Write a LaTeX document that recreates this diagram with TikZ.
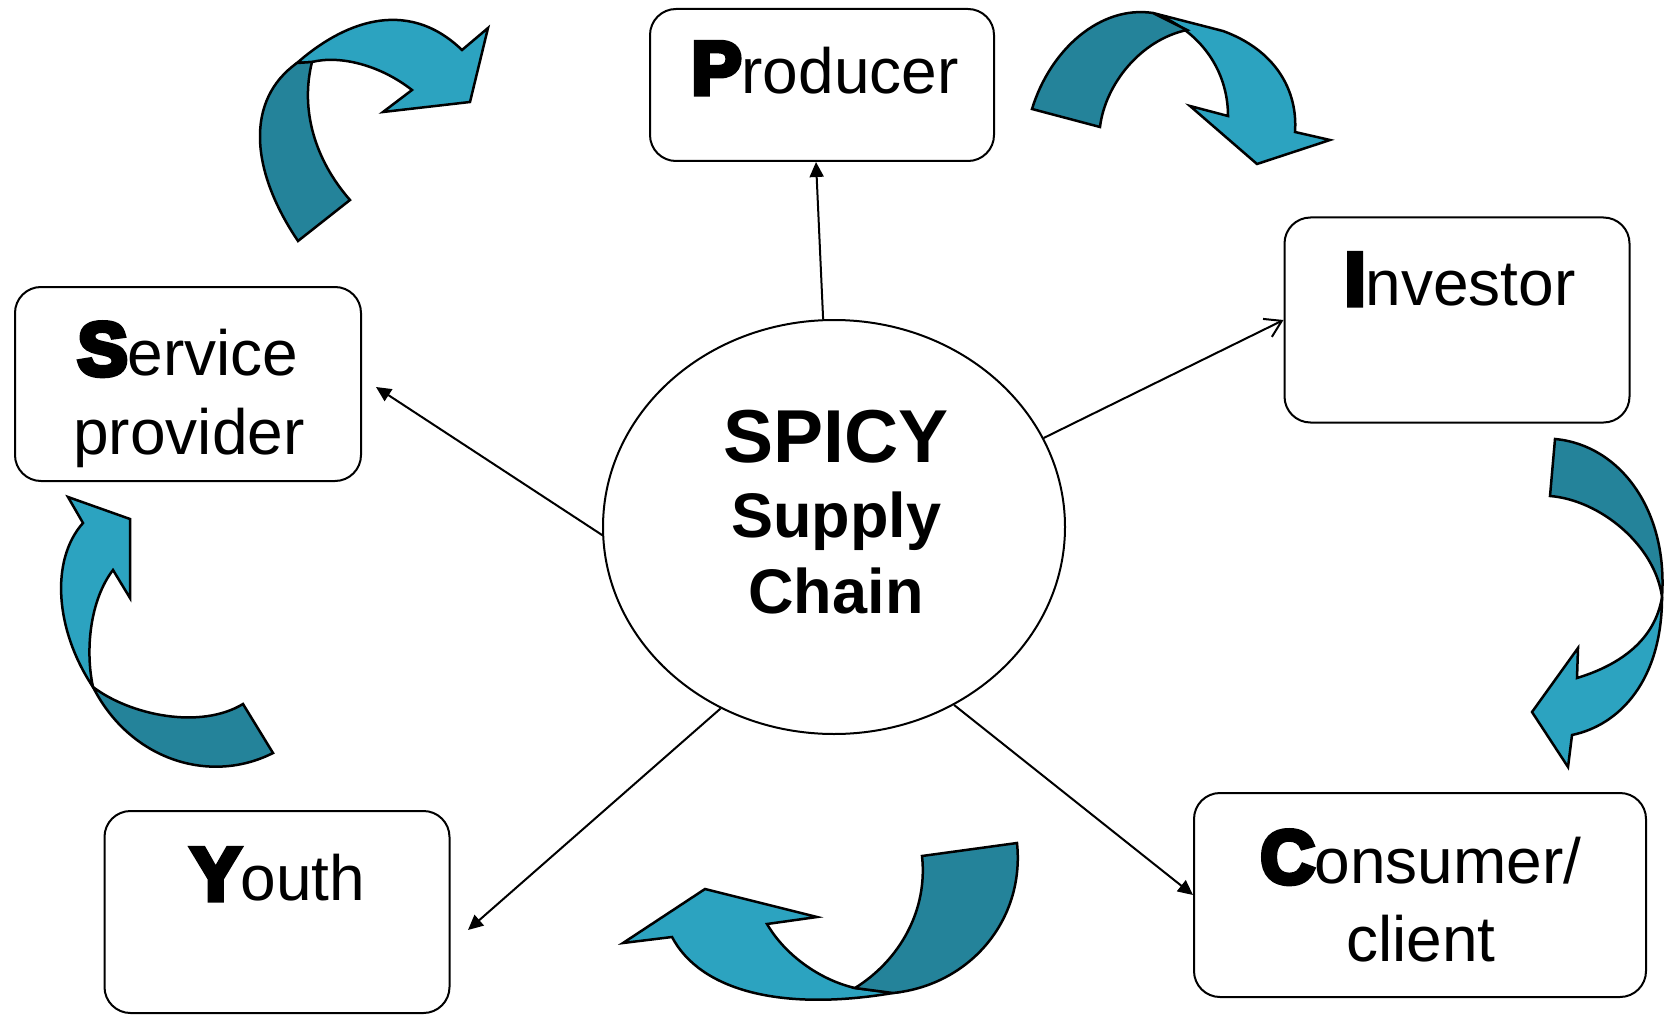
\documentclass[tikz,border=0pt]{standalone}
\usepackage{fontspec}
\setmainfont{Liberation Sans}
\newfontfamily\blackfont[FakeBold=7]{Liberation Sans Bold}
\usetikzlibrary{arrows.meta,shapes.geometric}

\definecolor{ribbonlight}{HTML}{2CA3C0}
\definecolor{ribbondark}{HTML}{24839A}

% big heavy first letter of each box label
\newcommand{\initial}[1]{{\blackfont\fontsize{75}{75}\selectfont #1}}
\newcommand{\boxfont}{\fontsize{64}{64}\selectfont}

\begin{document}
\begin{tikzpicture}[x=1pt,y=-1pt,
    box/.style={draw, line width=2pt, rounded corners=26pt, inner sep=0pt},
    boxtext/.style={anchor=base, inner sep=0pt, font=\boxfont},
    hub/.style={ellipse, draw, line width=2pt, minimum width=462pt, minimum height=414pt, inner sep=0pt},
    hubbig/.style={anchor=base, inner sep=0pt, font=\bfseries\fontsize{75}{75}\selectfont},
    hubtext/.style={anchor=base, inner sep=0pt, font=\bfseries\fontsize{63}{63}\selectfont},
    link/.style={line width=2pt, -{Triangle[length=15pt,width=14pt]}},
    lightrib/.style={fill=ribbonlight, draw=black, line width=2.5pt},
    darkrib/.style={fill=ribbondark, draw=black, line width=2.5pt}]
    \useasboundingbox (0,0) rectangle (1669,1016);

    % centre
    \node[hub] (hub) at (834,527) {};
        \node[hubbig] (spicy) at (836,462) {SPICY};
        \node[hubtext] (supply) at (836,537) {Supply};
        \node[hubtext] (chain) at (836,613) {Chain};

    % boxes
    \node[box, minimum width=344pt, minimum height=152pt] (prod) at (822,85) {};
        \node[boxtext] (prodtxt) at (825,94) {\initial{P}roducer};
    \node[box, minimum width=345pt, minimum height=205pt] (inv) at (1457,320) {};
        \node[boxtext] (invtxt) at (1460,305) {\initial{I}nvestor};
    \node[box, minimum width=346pt, minimum height=194pt] (serv) at (188,384) {};
        \node[boxtext] (servtxt) at (188,375) {\initial{S}ervice};
        \node[boxtext] (servtxtb) at (189,454) {provider};
    \node[box, minimum width=345pt, minimum height=202pt] (youth) at (277,912) {};
        \node[boxtext] (youthtxt) at (278,900) {\initial{Y}outh};
    \node[box, minimum width=452pt, minimum height=204pt] (cons) at (1420,895) {};
        \node[boxtext] (constxt) at (1421,883) {\initial{C}onsumer/};
        \node[boxtext] (constxtb) at (1421,961) {client};

    % connectors
    \coordinate (servtip) at (376,387);
    \coordinate (youthtip) at (468,930);
    \draw[link] (hub.93) -- ([xshift=-6pt]prod.south);
    \draw[line width=2pt, -{Straight Barb[length=16pt,width=20pt]}] (hub.23) -- (inv.west);
    \draw[link] (hub.182) -- (servtip);
    \draw[link] (hub.238) -- (youthtip);
    \draw[link] (hub.304) -- (cons.west);

    % ribbon: service -> producer
    \filldraw[lightrib] (297,63) .. controls (340,25) and (405,-5) .. (462,50)
        -- (488,28) -- (470,102) -- (383,112) -- (412,90)
        .. controls (380,65) and (340,55) .. (312,62) -- cycle;
    \filldraw[darkrib] (298,241) .. controls (250,170) and (245,100) .. (297,63)
        -- (312,62) .. controls (300,110) and (315,160) .. (350,200) -- cycle;

    % ribbon: producer -> investor
    \filldraw[lightrib] (1153,13) -- (1223,31) .. controls (1275,50) and (1298,90) .. (1295,132)
        -- (1330,140) -- (1257,164) -- (1190,106) -- (1228,116)
        .. controls (1228,70) and (1200,30) .. (1153,13) -- cycle;
    \filldraw[darkrib] (1032,109) .. controls (1050,50) and (1100,5) .. (1153,13)
        -- (1187,30) .. controls (1140,40) and (1105,85) .. (1100,127) -- cycle;

    % ribbon: investor -> consumer
    \filldraw[lightrib] (1662,597) .. controls (1662,680) and (1620,725) .. (1572,735)
        -- (1568,767) -- (1532,712) -- (1578,648) -- (1577,678)
        .. controls (1620,665) and (1655,640) .. (1662,597) -- cycle;
    \filldraw[darkrib] (1550,496) -- (1555,439)
        .. controls (1620,445) and (1668,510) .. (1662,597)
        .. controls (1655,545) and (1600,500) .. (1550,496) -- cycle;

    % ribbon: consumer -> youth
    \filldraw[lightrib] (893,993) .. controls (780,1012) and (700,990) .. (672,937)
        -- (623,943) -- (705,889) -- (817,917) -- (767,924)
        .. controls (785,955) and (820,980) .. (855,988) -- cycle;
    \filldraw[darkrib] (922,856) -- (1017,843)
        .. controls (1025,920) and (970,985) .. (893,993)
        -- (855,988) .. controls (900,960) and (928,910) .. (922,856) -- cycle;

    % ribbon: youth -> service
    \filldraw[lightrib] (93,687) .. controls (55,630) and (50,560) .. (83,523)
        -- (68,497) -- (130,519) -- (130,598) -- (113,570)
        .. controls (90,600) and (85,650) .. (93,687) -- cycle;
    \filldraw[darkrib] (93,687) .. controls (130,715) and (200,730) .. (243,704)
        -- (273,753) .. controls (210,785) and (130,760) .. (93,687) -- cycle;
\end{tikzpicture}
\end{document}
